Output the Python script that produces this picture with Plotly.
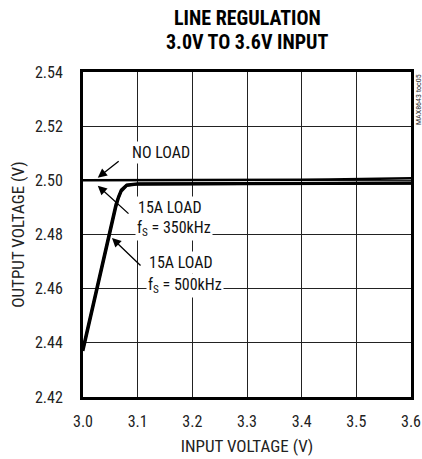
import plotly.graph_objects as go

FONT = "Liberation Sans Narrow, Roboto Condensed, Arial Narrow, Liberation Sans, sans-serif"

# Data
x_noload = [3.0, 3.1, 3.2, 3.3, 3.4, 3.45, 3.5, 3.55, 3.6]
y_noload = [2.5000, 2.5000, 2.5000, 2.5001, 2.5002, 2.5003, 2.5005, 2.5006, 2.5008]

x_350 = [3.0, 3.01, 3.02, 3.03, 3.04, 3.05, 3.06, 3.065, 3.07, 3.08, 3.1, 3.3, 3.6]
y_350 = [2.438, 2.447, 2.456, 2.465, 2.474, 2.483, 2.491, 2.494, 2.4965, 2.4983, 2.4987, 2.4988, 2.4990]

x_500 = [3.0, 3.01, 3.02, 3.03, 3.04, 3.05, 3.06, 3.065, 3.07, 3.08, 3.1, 3.3, 3.6]
y_500 = [2.437, 2.446, 2.455, 2.464, 2.473, 2.482, 2.490, 2.4935, 2.496, 2.4981, 2.4986, 2.4987, 2.4989]

x_ticks = [3.0, 3.1, 3.2, 3.3, 3.4, 3.5, 3.6]
x_ticklabels = ["3.0", "3.1", "3.2", "3.3", "3.4", "3.5", "3.6"]
y_ticks = [2.42, 2.44, 2.46, 2.48, 2.50, 2.52, 2.54]
y_ticklabels = ["2.42", "2.44", "2.46", "2.48", "2.50", "2.52", "2.54"]

title_lines = ["LINE REGULATION", "3.0V TO 3.6V INPUT"]

fig = go.Figure()
for xs, ys, w in [(x_500, y_500, 3), (x_350, y_350, 3), (x_noload, y_noload, 2.5)]:
    fig.add_trace(go.Scatter(x=xs, y=ys, mode="lines", line=dict(color="black", width=w),
                             showlegend=False, hoverinfo="skip"))

ann_font = dict(family=FONT, size=16, color="#111")
annotations = [
    dict(x=3.086, y=2.5101, xref="x", yref="y", text="NO LOAD", showarrow=False,
         xanchor="left", yanchor="middle", font=ann_font, bgcolor="white"),
    dict(x=3.159, y=2.4901, xref="x", yref="y", text="15A LOAD", showarrow=False,
         font=ann_font, bgcolor="white", xanchor="center", yanchor="middle"),
    dict(x=3.167, y=2.4822, xref="x", yref="y", text="f<sub>S</sub> = 350kHz", showarrow=False,
         font=ann_font, bgcolor="white", xanchor="center", yanchor="middle"),
    dict(x=3.179, y=2.4695, xref="x", yref="y", text="15A LOAD", showarrow=False,
         font=ann_font, bgcolor="white", xanchor="center", yanchor="middle"),
    dict(x=3.187, y=2.4612, xref="x", yref="y", text="f<sub>S</sub> = 500kHz", showarrow=False,
         font=ann_font, bgcolor="white", xanchor="center", yanchor="middle"),
    # arrows
    dict(x=3.027, y=2.5010, ax=3.068, ay=2.5075, xref="x", yref="y", axref="x", ayref="y",
         text="", showarrow=True, arrowhead=2, arrowsize=1.4, arrowwidth=1.3, arrowcolor="black"),
    dict(x=3.027, y=2.4980, ax=3.086, ay=2.4872, xref="x", yref="y", axref="x", ayref="y",
         text="", showarrow=True, arrowhead=2, arrowsize=1.4, arrowwidth=1.3, arrowcolor="black"),
    dict(x=3.053, y=2.4787, ax=3.108, ay=2.4680, xref="x", yref="y", axref="x", ayref="y",
         text="", showarrow=True, arrowhead=2, arrowsize=1.4, arrowwidth=1.3, arrowcolor="black"),
    dict(x=1.0, y=1.0, xref="paper", yref="paper", text="MAX8643 toc05", showarrow=False,
         textangle=-90, xanchor="left", yanchor="top", xshift=1,
         font=dict(family=FONT, size=8, color="#333")),
    # title lines
    dict(x=0.5, y=1.0, xref="paper", yref="paper", text="<b>" + title_lines[0] + "</b>",
         showarrow=False, xanchor="center", yanchor="middle", yshift=54,
         font=dict(family=FONT, size=20, color="black")),
    dict(x=0.5, y=1.0, xref="paper", yref="paper", text="<b>" + title_lines[1] + "</b>",
         showarrow=False, xanchor="center", yanchor="middle", yshift=30,
         font=dict(family=FONT, size=20, color="black")),
]

fig.update_layout(
    width=422, height=459,
    margin=dict(l=83, r=11, t=72, b=62, autoexpand=False),
    paper_bgcolor="white", plot_bgcolor="white",
    annotations=annotations,
    font=dict(family=FONT, size=16, color="#222"),
)
fig.update_xaxes(range=[3.0, 3.6], tickvals=x_ticks, ticktext=x_ticklabels,
                 showgrid=True, gridcolor="#222", gridwidth=1, zeroline=False,
                 showline=True, linecolor="black", linewidth=3, mirror=True, ticks="",
                 ticklabelstandoff=8, automargin=False, ticklabeloverflow="allow",
                 title=dict(text="INPUT VOLTAGE (V)", font=dict(family=FONT, size=17, color="#222"), standoff=10),
                 tickfont=dict(family=FONT, size=16, color="#222"))
fig.update_yaxes(range=[2.42, 2.54], tickvals=y_ticks, ticktext=y_ticklabels,
                 showgrid=True, gridcolor="#222", gridwidth=1, zeroline=False,
                 showline=True, linecolor="black", linewidth=3, mirror=True,
                 ticks="outside", ticklen=14, tickcolor="rgba(0,0,0,0)",
                 automargin=False, ticklabeloverflow="allow",
                 title=dict(text="OUTPUT VOLTAGE (V)", font=dict(family=FONT, size=17, color="#222"), standoff=6),
                 tickfont=dict(family=FONT, size=16, color="#222"))

fig.write_html("out.html", config={"displayModeBar": False},
               post_script="document.body.style.margin='0';document.body.style.overflow='hidden';")
